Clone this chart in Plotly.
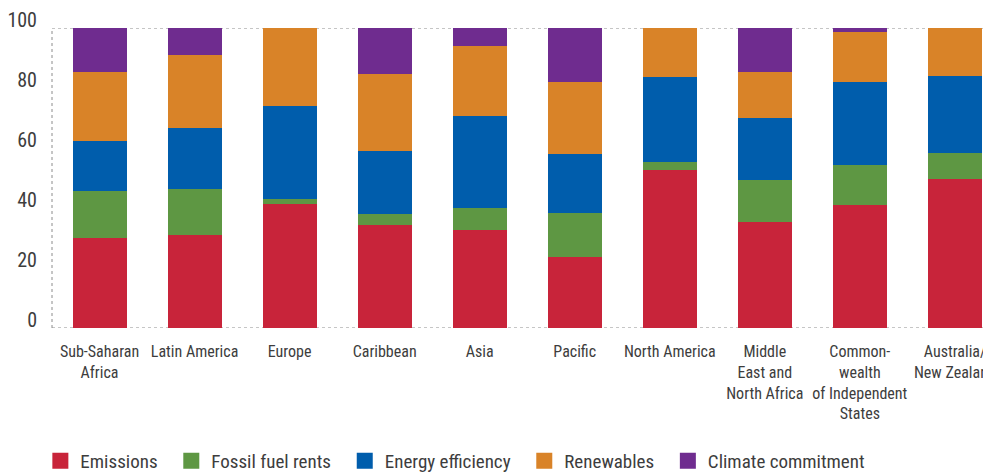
import plotly.graph_objects as go

regions = [
    "Sub-Saharan<br>Africa", "Latin America", "Europe", "Caribbean", "Asia",
    "Pacific", "North America", "Middle<br>East and<br>North Africa",
    "Common-<br>wealth<br>of Independent<br>States", "Australia/<br>New Zealand",
]

emissions = [30.1, 31.0, 41.3, 34.3, 32.7, 23.7, 52.7, 35.3, 41.0, 49.7]
fossil_fuel_rents = [15.6, 15.3, 1.7, 3.7, 7.3, 14.7, 2.7, 14.0, 13.3, 8.7]
energy_efficiency = [16.7, 20.3, 31.0, 21.0, 30.7, 19.7, 28.3, 20.7, 27.7, 25.7]
renewables = [23.0, 24.3, 26.0, 25.7, 23.3, 24.0, 16.3, 15.3, 16.7, 16.0]
climate_commitment = [14.6, 9.1, 0.0, 15.3, 6.0, 17.9, 0.0, 14.7, 1.3, 0.0]

series = [
    ("Emissions", emissions, "#c8243a"),
    ("Fossil fuel rents", fossil_fuel_rents, "#5e9743"),
    ("Energy efficiency", energy_efficiency, "#005dac"),
    ("Renewables", renewables, "#d98328"),
    ("Climate commitment", climate_commitment, "#6f2c8f"),
]

font_family = "Roboto Condensed, PT Sans Narrow, Fira Sans Condensed, DejaVu Sans Condensed, sans-serif"
text_color = "#3d3d3d"

fig = go.Figure()
for name, vals, col in series:
    fig.add_trace(go.Bar(x=regions, y=vals, name=name, marker_color=col,
                         marker_line_width=0, showlegend=False))
# legend entries with bigger square swatches
for name, vals, col in series:
    fig.add_trace(go.Scatter(x=[None], y=[None], mode="markers",
                             name=name + "\u00a0\u00a0",
                             marker=dict(symbol="square", size=16, color=col)))

dot = dict(color="#8c8c8c", width=1, dash="dot")
fig.add_shape(type="line", xref="paper", yref="y", x0=0, x1=1, y0=100, y1=100, line=dot, layer="below")
fig.add_shape(type="line", xref="paper", yref="y", x0=0, x1=1, y0=0, y1=0, line=dot, layer="below")
fig.add_shape(type="line", xref="paper", yref="y", x0=0, x1=0, y0=0, y1=100, line=dot, layer="below")

# page body adds an 8px offset, margins account for it
fig.update_layout(
    width=991, height=474,
    margin=dict(l=44, r=8, t=20, b=154, autoexpand=False),
    barmode="stack", bargap=0.432,
    plot_bgcolor="white", paper_bgcolor="white",
    font=dict(family=font_family, color=text_color),
    legend=dict(orientation="h", traceorder="normal",
                x=-0.0124, xanchor="left", y=-0.443, yanchor="middle",
                font=dict(size=19, color=text_color), itemclick=False),
)
fig.update_xaxes(range=[-0.5, 9.38], showgrid=False, showline=False, ticks="",
                 tickfont=dict(size=16, color=text_color), tickangle=0,
                 ticklabelstandoff=12, automargin=False)
fig.update_yaxes(range=[0, 100], tickvals=[0, 20, 40, 60, 80, 100],
                 showgrid=False, zeroline=False, showline=False, ticks="",
                 tickfont=dict(size=20, color=text_color),
                 ticklabelstandoff=14, ticklabelshift=-8, automargin=False)

fig.write_html("out.html")
